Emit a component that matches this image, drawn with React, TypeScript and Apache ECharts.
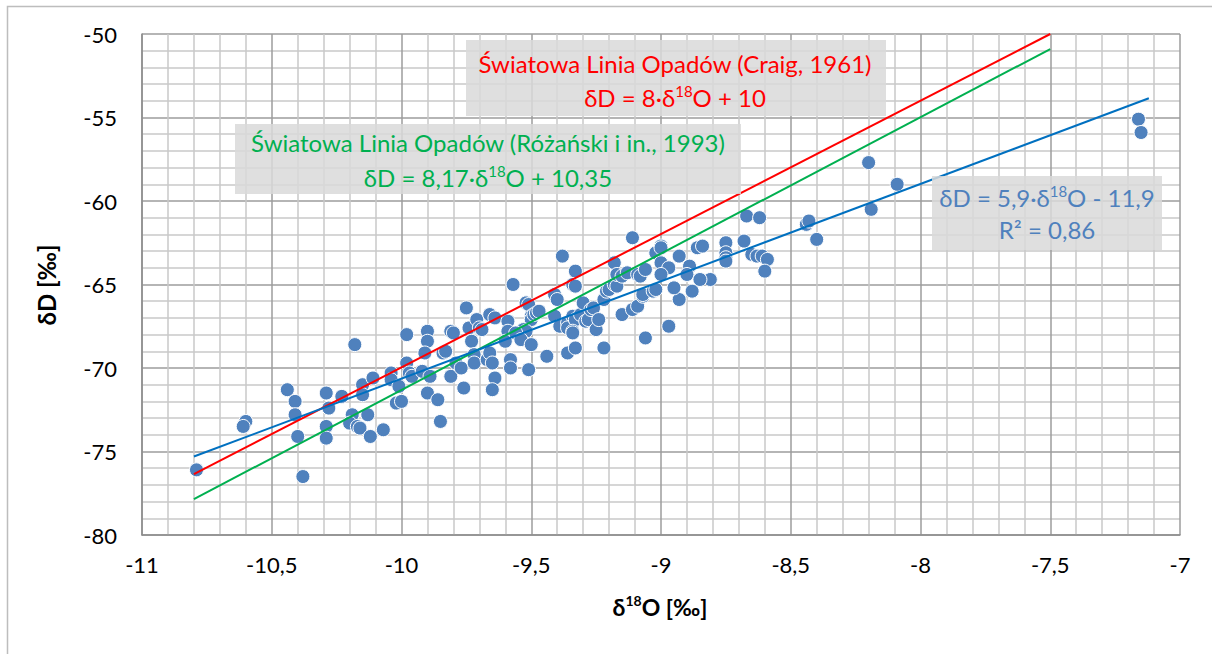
import React, { useEffect, useRef } from "react";
import * as echarts from "echarts";

// Measured samples: δ18O [‰] and δD [‰]
const d18O = [
  -10.79, -10.60, -10.61, -10.44, -10.41, -10.41, -10.40, -10.38, -10.29, -10.28,
  -10.29, -10.29, -10.23, -10.18, -10.19, -10.20, -10.17, -10.16, -10.15, -10.15,
  -10.13, -10.12, -10.11, -10.07, -10.04, -10.04, -10.01, -10.02, -10.00, -9.98,
  -9.97, -9.96, -9.98, -9.90, -9.90, -9.91, -9.92, -9.89, -9.90, -9.86,
  -9.85, -9.84, -9.83, -9.81, -9.80, -9.79, -9.81, -9.77, -9.76, -9.75,
  -9.74, -9.73, -9.72, -9.72, -9.71, -9.70, -9.69, -9.67, -9.66, -9.66,
  -9.64, -9.65, -9.64, -9.65, -9.59, -9.59, -9.60, -9.58, -9.58, -9.38,
  -9.57, -9.33, -9.34, -9.33, -9.18, -9.41, -9.40, -9.52, -9.51, -9.50,
  -9.50, -9.53, -9.52, -9.49, -9.48, -9.47, -9.56, -9.54, -9.50, -9.51,
  -9.44, -9.36, -9.33, -9.22, -9.06, -9.41, -9.39, -9.36, -9.36, -9.34,
  -9.33, -9.34, -9.34, -9.31, -9.30, -9.29, -9.28, -9.27, -9.26, -9.25,
  -9.24, -9.22, -9.21, -9.20, -9.18, -9.17, -9.17, -9.15, -9.13, -9.15,
  -9.11, -9.09, -9.09, -9.08, -9.06, -9.07, -9.07, -9.03, -9.02, -9.02,
  -9.11, -9.00, -9.00, -8.93, -9.00, -8.97, -8.89, -8.90, -9.00, -8.86,
  -8.84, -8.75, -8.75, -8.75, -8.75, -8.68, -8.65, -8.63, -8.61, -8.59,
  -8.60, -8.44, -8.43, -8.40, -8.67, -8.62, -8.81, -8.85, -8.88, -8.93,
  -8.95, -8.97, -8.19, -8.09, -8.20, -7.16, -7.15
];
const dD = [
  -76.1, -73.2, -73.5, -71.3, -72.0, -72.8, -74.1, -76.5, -71.5, -72.4,
  -73.5, -74.2, -71.7, -68.6, -72.8, -73.3, -73.5, -73.6, -71.0, -71.6,
  -72.8, -74.1, -70.6, -73.7, -70.3, -70.7, -71.1, -72.1, -72.0, -69.7,
  -70.3, -70.5, -68.0, -67.8, -68.4, -69.1, -70.2, -70.5, -71.5, -71.9,
  -73.2, -69.1, -69.0, -67.8, -67.9, -69.7, -70.5, -70.0, -71.2, -66.4,
  -67.6, -68.4, -69.2, -69.7, -67.1, -67.6, -67.7, -69.5, -69.1, -66.8,
  -67.0, -69.7, -70.6, -71.3, -67.2, -67.8, -68.4, -69.5, -70.0, -63.3,
  -65.0, -64.2, -65.0, -65.1, -63.7, -65.6, -65.9, -66.1, -66.2, -66.9,
  -67.1, -67.7, -67.8, -66.8, -66.7, -66.6, -67.9, -68.3, -68.6, -70.1,
  -69.3, -69.1, -68.8, -68.8, -68.2, -66.9, -67.5, -67.3, -67.6, -66.9,
  -67.1, -67.8, -67.9, -66.8, -66.1, -67.2, -67.1, -66.5, -66.4, -67.7,
  -67.1, -65.9, -65.4, -65.3, -65.0, -65.1, -64.4, -64.5, -64.3, -66.8,
  -66.5, -66.3, -64.4, -64.5, -64.1, -65.7, -65.6, -65.4, -65.3, -63.1,
  -62.2, -62.7, -62.8, -63.3, -63.7, -64.0, -63.9, -64.4, -64.4, -62.8,
  -62.7, -62.5, -63.1, -63.4, -63.6, -62.4, -63.2, -63.3, -63.3, -63.5,
  -64.2, -61.4, -61.2, -62.3, -60.9, -61.0, -64.7, -64.7, -65.4, -65.9,
  -65.2, -67.5, -60.5, -59.0, -57.7, -55.1, -55.9
];

// Line end points
const craigLine = [[-10.8, -76.35], [-7.5, -50.0]];
const rozanskiLine = [[-10.8, -77.85], [-7.5, -50.9]];
const trendLine = [[-10.8, -75.3], [-7.12, -53.85]];

// Annotation texts ({s|..} = superscript)
const craigText = ["Światowa Linia Opadów (Craig, 1961)", "δD = 8·δ{s|18}O + 10"];
const rozanskiText = ["Światowa Linia Opadów (Różański i in., 1993)", "δD = 8,17·δ{s|18}O + 10,35"];
const trendText = ["δD = 5,9·δ{s|18}O - 11,9", "R² = 0,86"];

const xTitle = "δ{s|18}O [‰]";
const yTitle = "δD [‰]";

const FONT = "Lato, 'Open Sans', sans-serif";

export default function App() {
  const ref = useRef<HTMLDivElement>(null);
  useEffect(() => {
    if (!ref.current) return;
    const chart = echarts.init(ref.current, undefined, { renderer: "svg" });
    const fmt = (v: number) => String(v).replace(".", ",");
    const points = d18O.map((x, i) => [x, dD[i]]);

    const box = (x: number, y: number, w: number, h: number) => ({
      type: "rect",
      shape: { x, y, width: w, height: h },
      style: { fill: "rgba(217,217,217,0.85)" },
      z: 50,
    });
    const txt = (x: number, y: number, text: string, color: string, size = 24, bold = false, extra: any = {}) => ({
      type: "text",
      x,
      y,
      ...extra,
      style: {
        text,
        fill: color,
        fontSize: size,
        fontFamily: FONT,
        fontWeight: bold ? "bold" : "normal",
        lineHeight: size + 4,
        textAlign: "center",
        textVerticalAlign: "middle",
        rich: {
          s: {
            fontSize: Math.round(size * 0.62),
            lineHeight: Math.round(size * 0.62),
            fontFamily: FONT,
            fontWeight: bold ? "bold" : "normal",
            fill: color,
            verticalAlign: "top",
          },
        },
      },
      z: 51,
    });

    chart.setOption({
      animation: false,
      backgroundColor: "#ffffff",
      grid: { left: 142, top: 34, right: 32, bottom: 119 },
      xAxis: {
        type: "value",
        min: -11,
        max: -7,
        interval: 0.5,
        axisLine: { show: true, onZero: false, lineStyle: { color: "#8c8c8c", width: 1.5 } },
        axisTick: { show: false },
        axisLabel: { formatter: fmt, color: "#000", fontSize: 22, fontFamily: FONT, margin: 18 },
        splitLine: { show: true, lineStyle: { color: "#9c9c9c", width: 1.5 } },
        minorTick: { show: false, splitNumber: 5 },
        minorSplitLine: { show: true, lineStyle: { color: "#c8c8c8", width: 1.5 } },
      },
      yAxis: {
        type: "value",
        min: -80,
        max: -50,
        interval: 5,
        axisLine: { show: true, onZero: false, lineStyle: { color: "#8c8c8c", width: 1.5 } },
        axisTick: { show: false },
        axisLabel: { formatter: fmt, color: "#000", fontSize: 22, fontFamily: FONT, margin: 25 },
        splitLine: { show: true, lineStyle: { color: "#9c9c9c", width: 1.5 } },
        minorTick: { show: false, splitNumber: 5 },
        minorSplitLine: { show: true, lineStyle: { color: "#c8c8c8", width: 1.5 } },
      },
      series: [
        {
          type: "scatter",
          data: points,
          symbolSize: 14,
          itemStyle: { color: "#4f81bd", borderColor: "#ffffff", borderWidth: 1, opacity: 1 },
          z: 3,
        },
        {
          type: "line",
          data: craigLine,
          showSymbol: false,
          lineStyle: { color: "#ff0000", width: 2 },
          z: 5,
        },
        {
          type: "line",
          data: rozanskiLine,
          showSymbol: false,
          lineStyle: { color: "#00b050", width: 2 },
          z: 5,
        },
        {
          type: "line",
          data: trendLine,
          showSymbol: false,
          lineStyle: { color: "#0070c0", width: 2 },
          z: 5,
        },
      ],
      graphic: [
        {
          type: "rect",
          shape: { x: 7.5, y: 6.5, width: 1220, height: 660 },
          style: { fill: "none", stroke: "#bdbdbd", lineWidth: 1.5 },
          z: 1,
          silent: true,
        },
        box(466, 40, 420, 76),
        txt(675, 63, craigText[0], "#ff0000"),
        txt(675, 97, craigText[1], "#ff0000"),
        box(235, 124, 506, 70),
        txt(488, 142, rozanskiText[0], "#00b050"),
        txt(488, 177, rozanskiText[1], "#00b050"),
        box(932, 176, 230, 74),
        txt(1047, 197, trendText[0], "#4f81bd"),
        txt(1047, 229, trendText[1], "#4f81bd"),
        txt(660, 607, xTitle, "#000", 23, true),
        txt(46, 285, yTitle, "#000", 24, true, { rotation: Math.PI / 2 }),
      ],
    });
    return () => chart.dispose();
  }, []);
  return <div ref={ref} style={{ position: "fixed", left: 0, top: 0, width: 1212, height: 654 }} />;
}
